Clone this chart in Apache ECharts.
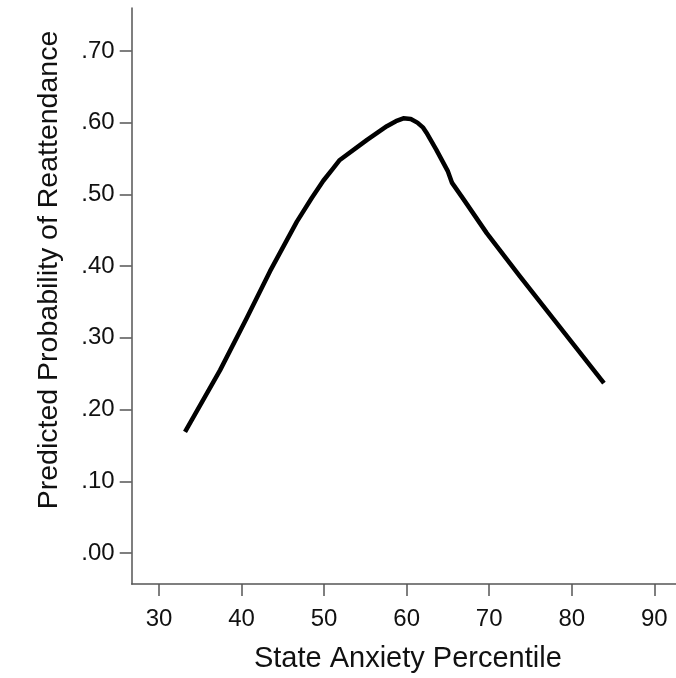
<!DOCTYPE html>
<html>
<head>
<meta charset="utf-8">
<script src="https://cdn.jsdelivr.net/npm/echarts@6/dist/echarts.min.js"></script>
<style>
  html, body { margin: 0; padding: 0; background: #fff; }
  #chart { width: 676px; height: 678px; }
</style>
</head>
<body>
<div id="chart"></div>
<script>
// curve: anxiety percentile -> predicted probability
const anxiety = [33.15, 37.4, 40.6, 43.45, 46.7, 48.5, 49.9, 51.0, 51.9, 55.2, 57.6, 58.7, 59.6, 60.5, 61.3, 62.0, 62.4, 63.6, 65.0, 65.5, 66.9, 69.7, 73.7, 77.8, 83.9];
const probability = [0.169, 0.255, 0.327, 0.393, 0.462, 0.495, 0.519, 0.535, 0.548, 0.576, 0.595, 0.602, 0.606, 0.605, 0.600, 0.593, 0.586, 0.562, 0.532, 0.516, 0.493, 0.446, 0.386, 0.326, 0.237];

const xTicks = [30, 40, 50, 60, 70, 80, 90];
const yTicks = [0, 0.1, 0.2, 0.3, 0.4, 0.5, 0.6, 0.7];

const FONT = 'Liberation Sans';
const AXIS_COLOR = '#555';
const TEXT_COLOR = '#111';

const chart = echarts.init(document.getElementById('chart'));

chart.setOption({
  backgroundColor: '#fff',
  animation: false,
  grid: { left: 131.7, right: 0, top: 8, bottom: 93 },
  xAxis: {
    type: 'value',
    min: 26.69,
    max: 92.63,
    name: 'State Anxiety Percentile',
    nameLocation: 'middle',
    nameGap: 60,
    nameTextStyle: { fontFamily: FONT, fontSize: 29, color: TEXT_COLOR, padding: [0, 0, 0, 8] },
    axisLine: { show: true, onZero: false, lineStyle: { color: AXIS_COLOR, width: 1.5 } },
    axisTick: { show: true, length: 12, customValues: xTicks, lineStyle: { color: AXIS_COLOR, width: 1.5 } },
    axisLabel: {
      customValues: xTicks,
      margin: 23,
      fontFamily: FONT, fontSize: 24, color: TEXT_COLOR,
      formatter: v => String(v),
    },
    splitLine: { show: false },
  },
  yAxis: {
    type: 'value',
    min: -0.0431,
    max: 0.7598,
    name: 'Predicted Probability of Reattendance',
    nameLocation: 'middle',
    nameGap: 68,
    nameTextStyle: { fontFamily: FONT, fontSize: 28.5, color: TEXT_COLOR, padding: [0, 0, 0, 52] },
    axisLine: { show: true, onZero: false, lineStyle: { color: AXIS_COLOR, width: 1.5 } },
    axisTick: { show: true, length: 12, customValues: yTicks, lineStyle: { color: AXIS_COLOR, width: 1.5 } },
    axisLabel: {
      customValues: yTicks,
      margin: 17,
      fontFamily: FONT, fontSize: 24, color: TEXT_COLOR,
      formatter: v => v.toFixed(2).replace(/^0/, ''),
    },
    splitLine: { show: false },
  },
  series: [{
    type: 'line',
    data: anxiety.map((x, i) => [x, probability[i]]),
    symbol: 'none',
    smooth: false,
    lineStyle: { color: '#000', width: 4.5, cap: 'butt', join: 'round' },
  }],
});
</script>
</body>
</html>
